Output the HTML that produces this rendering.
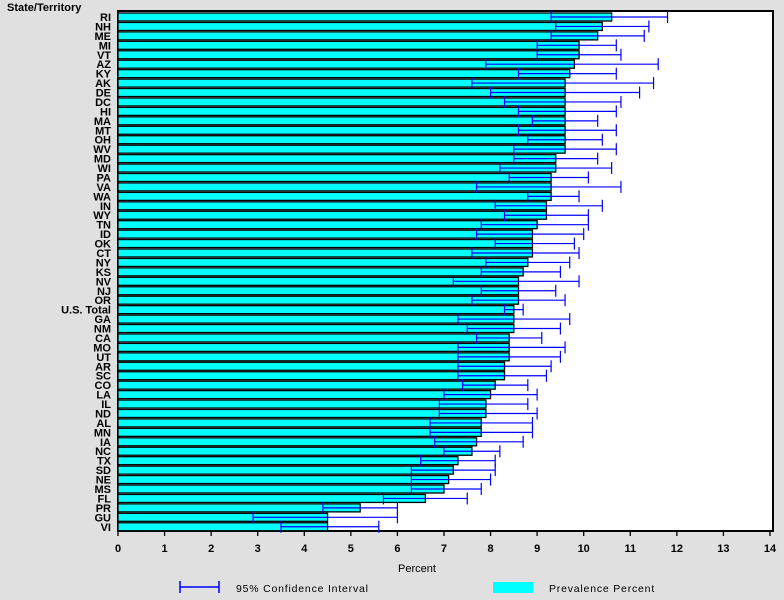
<!DOCTYPE html>
<html><head><meta charset="utf-8"><style>
body{margin:0;background:#e0e0e0;}
svg{display:block;font-family:"Liberation Sans",Arial,sans-serif;}
</style></head><body>
<svg width="784" height="600" xmlns="http://www.w3.org/2000/svg" id="s">
<rect width="784" height="600" fill="#e0e0e0"/>
<rect x="118" y="11" width="655" height="520" fill="#fff" stroke="#000" stroke-width="2"/>
<g id="g"></g>
<text x="7" y="11" font-size="11" font-weight="bold">State/Territory</text>
<text x="417" y="572" font-size="11" text-anchor="middle">Percent</text>
<line x1="180" y1="587" x2="219" y2="587" stroke="#00f" stroke-width="1.5"/>
<line x1="180" y1="581" x2="180" y2="593" stroke="#00f" stroke-width="1.5"/>
<line x1="219" y1="581" x2="219" y2="593" stroke="#00f" stroke-width="1.5"/>
<text x="236" y="592" font-size="10.5" letter-spacing="0.8">95% Confidence Interval</text>
<rect x="493" y="582" width="40" height="11" fill="#0ff"/>
<text x="549" y="592" font-size="10.5" letter-spacing="0.8">Prevalence Percent</text>
</svg>
<script>
var d=[["RI",10.6,9.3,11.8],["NH",10.4,9.4,11.4],["ME",10.3,9.3,11.3],["MI",9.9,9.0,10.7],["VT",9.9,9.0,10.8],["AZ",9.8,7.9,11.6],["KY",9.7,8.6,10.7],["AK",9.6,7.6,11.5],["DE",9.6,8.0,11.2],["DC",9.6,8.3,10.8],["HI",9.6,8.6,10.7],["MA",9.6,8.9,10.3],["MT",9.6,8.6,10.7],["OH",9.6,8.8,10.4],["WV",9.6,8.5,10.7],["MD",9.4,8.5,10.3],["WI",9.4,8.2,10.6],["PA",9.3,8.4,10.1],["VA",9.3,7.7,10.8],["WA",9.3,8.8,9.9],["IN",9.2,8.1,10.4],["WY",9.2,8.3,10.1],["TN",9.0,7.8,10.1],["ID",8.9,7.7,10.0],["OK",8.9,8.1,9.8],["CT",8.9,7.6,9.9],["NY",8.8,7.9,9.7],["KS",8.7,7.8,9.5],["NV",8.6,7.2,9.9],["NJ",8.6,7.8,9.4],["OR",8.6,7.6,9.6],["U.S. Total",8.5,8.3,8.7],["GA",8.5,7.3,9.7],["NM",8.5,7.5,9.5],["CA",8.4,7.7,9.1],["MO",8.4,7.3,9.6],["UT",8.4,7.3,9.5],["AR",8.3,7.3,9.3],["SC",8.3,7.3,9.2],["CO",8.1,7.4,8.8],["LA",8.0,7.0,9.0],["IL",7.9,6.9,8.8],["ND",7.9,6.9,9.0],["AL",7.8,6.7,8.9],["MN",7.8,6.7,8.9],["IA",7.7,6.8,8.7],["NC",7.6,7.0,8.2],["TX",7.3,6.5,8.1],["SD",7.2,6.3,8.1],["NE",7.1,6.3,8.0],["MS",7.0,6.3,7.8],["FL",6.6,5.7,7.5],["PR",5.2,4.4,6.0],["GU",4.5,2.9,6.0],["VI",4.5,3.5,5.6]];
var X=function(v){return 118+v*46.57};var h='';
d.forEach(function(r,i){var c=17+i*9.44;
h+='<rect x="118" y="'+(c-4)+'" width="'+(X(r[1])-118)+'" height="8" fill="#0ff" stroke="#000" stroke-width="1.3"/>';
h+='<text x="111" y="'+(c+4)+'" font-size="11" font-weight="bold" text-anchor="end">'+r[0]+'</text>';});
d.forEach(function(r,i){var c=17+i*9.44,a=X(r[2]),b=X(r[3]);
h+='<line x1="'+a+'" y1="'+c+'" x2="'+b+'" y2="'+c+'" stroke="#00f" stroke-width="1.2"/>';
h+='<line x1="'+a+'" y1="'+(c-6)+'" x2="'+a+'" y2="'+(c+6)+'" stroke="#00f" stroke-width="1.2"/>';
h+='<line x1="'+b+'" y1="'+(c-6)+'" x2="'+b+'" y2="'+(c+6)+'" stroke="#00f" stroke-width="1.2"/>';});
for(var t=0;t<=14;t++){var x=X(t);h+='<line x1="'+x+'" y1="531" x2="'+x+'" y2="536" stroke="#000" stroke-width="1.3"/><text x="'+x+'" y="552" font-size="11" font-weight="bold" text-anchor="middle">'+t+'</text>';}
document.getElementById('g').innerHTML=h;
</script>
</body></html>
